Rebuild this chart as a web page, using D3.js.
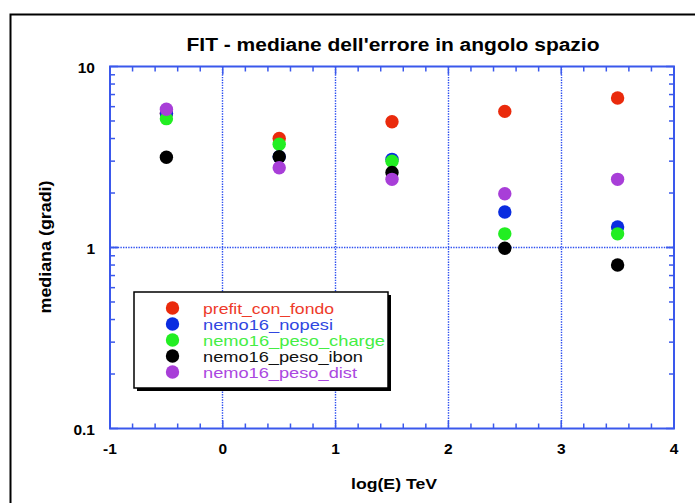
<!DOCTYPE html>
<html>
<head>
<meta charset="utf-8">
<script src="https://cdn.jsdelivr.net/npm/d3@7"></script>
<style>
  body { margin: 0; background: #fff; }
  svg { display: block; }
  text { font-family: "Liberation Sans", Arial, Helvetica, sans-serif; }
</style>
</head>
<body>
<svg id="chart" width="695" height="503"></svg>
<script>
// energy bins (log10 E, TeV)
var energies = [-0.5, 0.5, 1.5, 2.5, 3.5];

var seriesNames = ["prefit_con_fondo", "nemo16_nopesi", "nemo16_peso_charge", "nemo16_peso_ibon", "nemo16_peso_dist"];
var dotColors = ["#ea2a0c", "#0a2ce0", "#22ee22", "#000000", "#a83ed8"];
var textColors = ["#ee3a2a", "#3046e0", "#44ee44", "#111111", "#aa48e0"];

var prefitConFondo = [5.5, 4.0, 4.95, 5.65, 6.7];
var nemo16Nopesi = [5.5, 3.17, 3.07, 1.57, 1.3];
var nemo16PesoCharge = [5.15, 3.72, 3.0, 1.19, 1.19];
var nemo16PesoIbon = [3.15, 3.17, 2.6, 0.99, 0.8];
var nemo16PesoDist = [5.8, 2.76, 2.38, 1.98, 2.38];

var xTicks = [-1, 0, 1, 2, 3, 4];
var yTicks = [0.1, 1, 10];
var yTickLabels = ["0.1", "1", "10"];

var svg = d3.select("#chart");
var axisColor = "#3a58ec";
var plotLeft = 110, plotRight = 674, plotTop = 66.5, plotBottom = 428.5;

var x = d3.scaleLinear().domain([-1, 4]).range([plotLeft, plotRight]);
var y = d3.scaleLog().domain([0.1, 10]).range([plotBottom, plotTop]);

function crisp(v) { return Math.floor(v) + 0.5; }

// outer frame
svg.append("rect")
    .attr("x", 10.5).attr("y", 14.5)
    .attr("width", 720).attr("height", 520)
    .attr("fill", "none").attr("stroke", "#000").attr("stroke-width", 2);

// title
svg.append("text")
    .attr("x", 393).attr("y", 51)
    .attr("text-anchor", "middle")
    .attr("font-size", 18).attr("font-weight", "bold")
    .attr("textLength", 413).attr("lengthAdjust", "spacingAndGlyphs")
    .text("FIT - mediane dell'errore in angolo spazio");

// dotted grid
var grid = svg.append("g").attr("stroke", "#2f50f0").attr("stroke-width", 1.4)
    .attr("stroke-dasharray", "1.4,1.2");
grid.selectAll("line.gx")
    .data([0, 1, 2, 3])
    .enter().append("line")
    .attr("x1", function (d) { return crisp(x(d)); })
    .attr("x2", function (d) { return crisp(x(d)); })
    .attr("y1", plotTop).attr("y2", plotBottom);
grid.append("line")
    .attr("x1", plotLeft).attr("x2", plotRight)
    .attr("y1", crisp(y(1))).attr("y2", crisp(y(1)));

// ticks on all four sides, pointing inward
var minorX = d3.range(-1, 4.001, 0.2);
var minorY = [];
[0.1, 1].forEach(function (dec) {
    for (var k = 1; k <= 10; k++) minorY.push(dec * k);
});

function isMajorX(d) { return Math.abs(d - Math.round(d)) < 1e-6; }
function isMajorY(d) { return yTicks.some(function (t) { return Math.abs(d - t) < 1e-9; }); }

var ticks = svg.append("g").attr("stroke", axisColor).attr("stroke-width", 1.5);
minorX.forEach(function (d) {
    var len = isMajorX(d) ? 8 : 5;
    ticks.append("line").attr("x1", x(d)).attr("x2", x(d)).attr("y1", plotBottom).attr("y2", plotBottom - len);
    ticks.append("line").attr("x1", x(d)).attr("x2", x(d)).attr("y1", plotTop).attr("y2", plotTop + len);
});
minorY.forEach(function (d) {
    var len = isMajorY(d) ? 8 : 5;
    ticks.append("line").attr("x1", plotLeft).attr("x2", plotLeft + len).attr("y1", y(d)).attr("y2", y(d));
    ticks.append("line").attr("x1", plotRight).attr("x2", plotRight - len).attr("y1", y(d)).attr("y2", y(d));
});

svg.append("rect")
    .attr("x", plotLeft).attr("y", plotTop)
    .attr("width", plotRight - plotLeft).attr("height", plotBottom - plotTop)
    .attr("fill", "none").attr("stroke", axisColor).attr("stroke-width", 2);

// tick labels
svg.selectAll("text.xl")
    .data(xTicks)
    .enter().append("text")
    .attr("class", "xl")
    .attr("x", function (d) { return x(d); })
    .attr("y", 454)
    .attr("text-anchor", "middle")
    .attr("font-size", 15.5).attr("font-weight", "bold")
    .text(function (d) { return d; });

svg.selectAll("text.yl")
    .data(yTicks)
    .enter().append("text")
    .attr("class", "yl")
    .attr("x", 95)
    .attr("y", function (d) { return y(d) + 6; })
    .attr("text-anchor", "end")
    .attr("font-size", 15.5).attr("font-weight", "bold")
    .text(function (d, i) { return yTickLabels[i]; });

// axis titles
svg.append("text")
    .attr("x", 394).attr("y", 489)
    .attr("text-anchor", "middle")
    .attr("font-size", 15.5).attr("font-weight", "bold")
    .attr("textLength", 86).attr("lengthAdjust", "spacingAndGlyphs")
    .text("log(E) TeV");

svg.append("text")
    .attr("transform", "translate(51,247) rotate(-90)")
    .attr("text-anchor", "middle")
    .attr("font-size", 16).attr("font-weight", "bold")
    .attr("textLength", 133).attr("lengthAdjust", "spacingAndGlyphs")
    .text("mediana (gradi)");

// points, drawn in legend order so the last series sits on top
var allSeries = [prefitConFondo, nemo16Nopesi, nemo16PesoCharge, nemo16PesoIbon, nemo16PesoDist];
allSeries.forEach(function (vals, s) {
    svg.append("g").selectAll("circle")
        .data(vals)
        .enter().append("circle")
        .attr("cx", function (d, i) { return x(energies[i]); })
        .attr("cy", function (d) { return y(d); })
        .attr("r", 6.7)
        .attr("fill", dotColors[s]);
});

// legend
var legend = svg.append("g");
legend.append("rect")
    .attr("x", 137).attr("y", 295).attr("width", 254).attr("height", 96)
    .attr("fill", "#000");
legend.append("rect")
    .attr("x", 134).attr("y", 292).attr("width", 254).attr("height", 96)
    .attr("fill", "#fff").attr("stroke", "#000").attr("stroke-width", 1.5);

var legendWidths = [131, 130, 182, 160, 154];
var rows = legend.selectAll("g.row")
    .data(seriesNames)
    .enter().append("g")
    .attr("transform", function (d, i) { return "translate(0," + (308 + i * 16) + ")"; });
rows.append("circle")
    .attr("cx", 172.5).attr("cy", 0).attr("r", 6.7)
    .attr("fill", function (d, i) { return dotColors[i]; });
rows.append("text")
    .attr("x", 203).attr("y", 5.5)
    .attr("font-size", 15)
    .attr("textLength", function (d, i) { return legendWidths[i]; })
    .attr("lengthAdjust", "spacingAndGlyphs")
    .attr("fill", function (d, i) { return textColors[i]; })
    .text(function (d) { return d; });
</script>
</body>
</html>
